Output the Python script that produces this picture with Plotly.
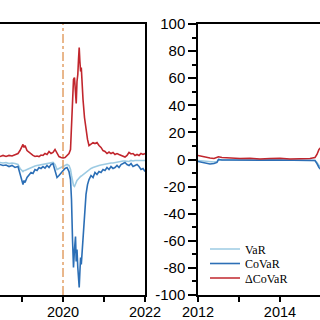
import plotly.graph_objects as go

# ---------------- data ----------------
# Left panel (2018-2022)
years_a = [2018.000, 2018.122, 2018.244, 2018.366, 2018.463, 2018.537, 2018.610, 2018.683,
           2018.756, 2018.829, 2018.902, 2018.951, 2019.000, 2019.024, 2019.049, 2019.073,
           2019.122, 2019.171, 2019.220, 2019.268, 2019.317, 2019.366, 2019.415, 2019.463,
           2019.512, 2019.561, 2019.610, 2019.659, 2019.707, 2019.756, 2019.805, 2019.854,
           2019.902, 2019.951, 2020.000, 2020.049, 2020.098, 2020.146, 2020.183, 2020.207,
           2020.232, 2020.256, 2020.280, 2020.305, 2020.322, 2020.341, 2020.361, 2020.378,
           2020.395, 2020.412, 2020.429, 2020.446, 2020.463, 2020.488, 2020.524, 2020.561,
           2020.598, 2020.634, 2020.683, 2020.732, 2020.780, 2020.829, 2020.878, 2020.927,
           2020.976, 2021.024, 2021.073, 2021.122, 2021.171, 2021.220, 2021.268, 2021.317,
           2021.366, 2021.415, 2021.463, 2021.512, 2021.561, 2021.610, 2021.659, 2021.707,
           2021.756, 2021.805, 2021.854, 2021.902, 2021.951, 2022.000]

dcovar_a = [2.2, 3.0, 1.8, 2.6, 2.2, 3.0, 2.2, 3.0,
            2.6, 3.7, 4.4, 6.6, 9.6, 11.1, 8.9, 10.3,
            6.6, 5.2, 3.7, 3.0, 2.2, 2.6, 2.2, 3.3,
            3.0, 4.4, 3.7, 5.9, 4.4, 5.2, 7.4, 4.4,
            2.2, 1.5, 1.1, 1.5, 3.0, 4.4, 7.4, 22.1,
            44.3, 59.0, 60.5, 44.3, 41.3, 57.6, 62.7, 73.8,
            82.7, 72.3, 64.9, 67.9, 55.4, 44.3, 31.0, 22.1,
            14.8, 10.3, 11.1, 12.5, 11.8, 12.5, 10.3, 8.9,
            6.6, 5.9, 4.4, 5.5, 4.4, 5.2, 3.7, 4.4,
            3.7, 3.0, 2.2, 1.8, 3.0, 5.2, 4.1, 4.4,
            3.0, 3.7, 3.0, 4.4, 3.7, 4.4]

covar_a = [-3.7, -4.4, -3.0, -4.4, -3.7, -4.4, -4.1, -5.2,
           -4.4, -5.9, -5.2, -10.3, -14.8, -18.5, -15.5, -17.0,
           -13.3, -11.8, -9.6, -10.3, -7.4, -8.1, -5.9, -6.6,
           -5.2, -6.3, -4.4, -5.9, -3.7, -3.0, -7.4, -13.3,
           -11.8, -10.3, -8.1, -6.6, -5.9, -8.9, -14.8, -29.5,
           -59.0, -79.7, -66.4, -56.8, -75.3, -66.4, -79.7, -84.9,
           -94.5, -82.7, -72.3, -77.5, -70.1, -55.4, -38.4, -25.8,
           -18.5, -14.8, -11.8, -13.3, -9.6, -11.1, -8.9, -9.6,
           -7.4, -8.1, -5.9, -7.4, -5.2, -6.6, -5.9, -4.4,
           -5.9, -3.7, -3.0, -2.2, -3.7, -4.4, -3.0, -5.2,
           -4.4, -3.7, -5.2, -7.4, -6.6, -8.9]

var_a = [-2.2, -2.6, -2.2, -3.0, -2.2, -2.6, -2.2, -3.0,
         -2.6, -3.0, -3.7, -6.6, -8.1, -8.9, -8.1, -8.1,
         -7.4, -6.6, -5.9, -5.5, -4.8, -4.4, -4.1, -3.7,
         -3.7, -3.3, -3.0, -3.0, -2.6, -2.2, -3.7, -7.4,
         -6.6, -5.9, -5.2, -4.4, -3.7, -4.4, -7.4, -11.8,
         -16.2, -19.2, -19.9, -17.7, -17.0, -15.5, -14.8, -14.0,
         -13.7, -13.3, -12.5, -12.2, -11.8, -11.1, -10.3, -9.2,
         -8.1, -7.4, -6.6, -5.9, -5.2, -4.8, -4.4, -4.1,
         -3.7, -3.3, -3.0, -3.0, -2.6, -2.6, -2.2, -2.2,
         -1.8, -1.5, -1.1, -1.1, -1.1, -1.5, -0.7, -1.1,
         -0.7, -0.7, -0.4, -0.7, -0.7, -0.7]

# Right panel (2012-2015)
years_b = [2012.000, 2012.098, 2012.195, 2012.293, 2012.390, 2012.463, 2012.500,
           2012.585, 2012.780, 2013.024, 2013.268, 2013.512, 2013.756, 2014.000,
           2014.244, 2014.488, 2014.732, 2014.854, 2014.902, 2014.951, 2015.000]
dcovar_b = [3.0, 2.2, 1.8, 1.1, 0.7, 1.5, 2.0, 1.5, 1.1, 0.7, 0.9, 0.4, 0.7, 0.9,
            0.4, 0.7, 0.7, 1.5, 3.7, 7.4, 8.9]
covar_b = [-1.5, -2.2, -3.0, -3.3, -3.0, -2.2, 0.0, -0.4, -0.4, -0.6, -0.4, -0.5,
           -0.4, -0.4, -0.5, -0.4, -0.4, -0.7, -3.0, -5.9, -7.4]
var_b = [-0.7, -1.1, -1.5, -1.8, -1.8, -1.5, -0.4, -0.4, -0.3, -0.4, -0.3, -0.4,
         -0.3, -0.3, -0.4, -0.3, -0.3, -0.7, -2.2, -4.4, -5.2]

event_year = 2020
y_ticks = [-100, -80, -60, -40, -20, 0, 20, 40, 60, 80, 100]
y_tick_labels = ["-100", "-80", "-60", "-40", "-20", "0", "20", "40", "60", "80", "100"]
x_ticks_a = [2020, 2022]
x_ticks_b = [2012, 2014]
series_names = ["VaR", "CoVaR", "\u0394CoVaR"]

# ---------------- style ----------------
C_VAR = "#9DCBE3"
C_COVAR = "#2C6FB6"
C_DCOVAR = "#C1262D"
TICK_FONT = dict(family="Liberation Sans, Arial", size=15, color="black")
XTICK_FONT = dict(family="Liberation Sans, Arial", size=14.5, color="black")
LEG_FONT = dict(family="Liberation Serif, Times New Roman", size=12, color="black")

fig = go.Figure()
for xs, ys, c, n, ax, leg, show in [
    (years_a, var_a, C_VAR, series_names[0], ("x", "y"), "legend", False),
    (years_a, covar_a, C_COVAR, series_names[1], ("x", "y"), "legend", False),
    (years_a, dcovar_a, C_DCOVAR, series_names[2], ("x", "y"), "legend", False),
    (years_b, var_b, C_VAR, series_names[0], ("x2", "y2"), "legend", True),
    (years_b, covar_b, C_COVAR, series_names[1], ("x2", "y2"), "legend2", True),
    (years_b, dcovar_b, C_DCOVAR, series_names[2], ("x2", "y2"), "legend3", True),
]:
    fig.add_trace(go.Scatter(x=xs, y=ys, mode="lines", name=n, showlegend=show, legend=leg,
                             line=dict(color=c, width=1.6), xaxis=ax[0], yaxis=ax[1]))

fig.add_trace(go.Scatter(x=[event_year, event_year], y=[y_ticks[0], y_ticks[-1]],
                         mode="lines", showlegend=False, xaxis="x", yaxis="y",
                         line=dict(color="#E2A066", width=1.5, dash="dashdot")))

W = 320
PH = 271  # plot-area height in px


def leg(ycenter):
    return dict(x=205 / W, y=(295 - ycenter) / PH, xanchor="left", yanchor="middle",
                bgcolor="rgba(0,0,0,0)", font=LEG_FONT, itemwidth=30)


fig.update_layout(
    width=W, height=320,
    margin=dict(l=0, r=0, t=24, b=25, pad=0, autoexpand=False),
    paper_bgcolor="white", plot_bgcolor="white",
    xaxis=dict(domain=[0, 145 / W], range=[2018.463, 2022], tickvals=x_ticks_a,
               ticks="outside", ticklen=5, tickwidth=1.5, tickcolor="black",
               minor=dict(dtick=1, ticks="outside", ticklen=5, tickwidth=1.5, tickcolor="black"),
               showline=True, linecolor="black", linewidth=1.5, mirror=True,
               showgrid=False, zeroline=False, tickfont=XTICK_FONT, automargin=False,
               ticklabelstandoff=-2),
    yaxis=dict(domain=[0, 1], range=[-100, 100], side="right", showline=True,
               linecolor="black", linewidth=1.5, showticklabels=False, ticks="",
               showgrid=False, zeroline=False, automargin=False),
    xaxis2=dict(domain=[198 / W, 1], range=[2012, 2014.976], tickvals=x_ticks_b,
                ticks="outside", ticklen=5, tickwidth=1.5, tickcolor="black",
                minor=dict(dtick=1, ticks="outside", ticklen=5, tickwidth=1.5, tickcolor="black"),
                showline=True, linecolor="black", linewidth=1.5, mirror=True,
                showgrid=False, zeroline=False, tickfont=XTICK_FONT, automargin=False,
                ticklabelstandoff=-2),
    yaxis2=dict(domain=[0, 1], range=[-100, 100], anchor="x2", tickvals=y_ticks,
                ticktext=y_tick_labels, ticks="outside", ticklen=8, tickwidth=1.5,
                tickcolor="black",
                minor=dict(dtick=10, ticks="outside", ticklen=4, tickwidth=1.5, tickcolor="black"),
                showline=True, linecolor="black", linewidth=1.5,
                showgrid=False, zeroline=False, tickfont=TICK_FONT, automargin=False),
    legend=leg(249),
    legend2=leg(263.5),
    legend3=leg(278),
    showlegend=True,
)

fig.write_html("out.html", config={"displayModeBar": False},
               post_script="document.body.style.margin='0';")
